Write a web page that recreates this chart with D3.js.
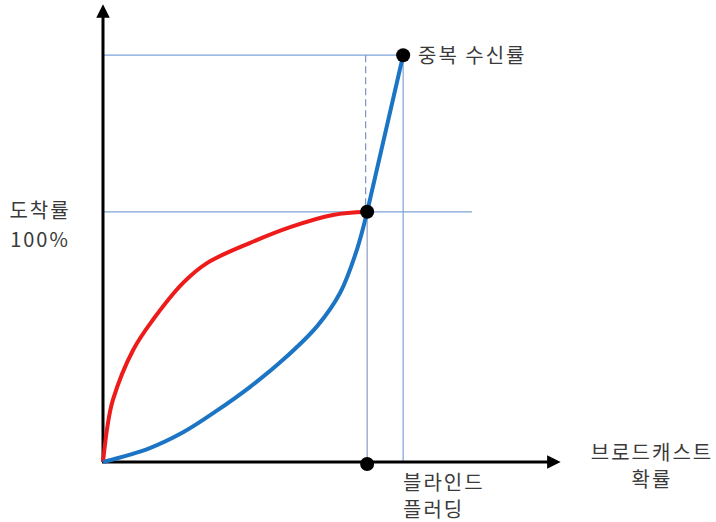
<!DOCTYPE html>
<html>
<head>
<meta charset="utf-8">
<script src="https://cdn.jsdelivr.net/npm/d3@7"></script>
<style>
  body { margin: 0; background: #fff; }
  text { font-family: "Noto Sans CJK KR", "Noto Sans", sans-serif; fill: #3a3a3a; font-size: 20px; letter-spacing: 2px; }
</style>
</head>
<body>
<div id="chart"></div>
<script>
// Données (unités : % de la largeur/hauteur du repère)
const reachCurve = [
    [0, 0], [1.0, 8.0], [2.2, 13.8], [6.7, 24.9], [11.1, 31.6], [17.8, 39.8],
    [23.1, 44.2], [32.7, 48.7], [41.6, 52.2], [51.1, 54.9], [58.7, 55.6]
];
const broadcastCurve = [
    [0, 0], [10.4, 3.1], [17.8, 6.6], [25.3, 11.4], [32.7, 16.7],
    [40, 22.7], [47.6, 30.2], [52.7, 37.6], [56.4, 47.1], [58.7, 55.6]
];
const reachPoint = [58.7, 55.6];
const duplicatePoint = [66.7, 90.4];
const blindPoint = [58.7, 0];
const labels = {
    y: ["도착률", "100%"],
    x: ["브로드캐스트", "확률"],
    dup: "중복 수신률",
    blind: ["블라인드", "플러딩"]
};

const width = 716, height = 522;

const svg = d3.select("#chart")
    .append("svg")
    .attr("width", width)
    .attr("height", height);

// Échelles
const x = d3.scaleLinear().domain([0, 100]).range([103, 553]);
const y = d3.scaleLinear().domain([0, 100]).range([462, 12]);

const guide = "#7ea3d9";

// Lignes de repère
svg.append("line")
    .attr("x1", x(0)).attr("x2", x(duplicatePoint[0]))
    .attr("y1", y(duplicatePoint[1])).attr("y2", y(duplicatePoint[1]))
    .attr("stroke", guide).attr("stroke-width", 1.2);
svg.append("line")
    .attr("x1", x(0)).attr("x2", x(82))
    .attr("y1", y(reachPoint[1])).attr("y2", y(reachPoint[1]))
    .attr("stroke", guide).attr("stroke-width", 1.2);
svg.append("line")
    .attr("x1", x(duplicatePoint[0])).attr("x2", x(duplicatePoint[0]))
    .attr("y1", y(duplicatePoint[1])).attr("y2", y(0))
    .attr("stroke", guide).attr("stroke-width", 1.2);
svg.append("line")
    .attr("x1", x(reachPoint[0])).attr("x2", x(reachPoint[0]))
    .attr("y1", y(reachPoint[1])).attr("y2", y(0))
    .attr("stroke", "#8c9cc0").attr("stroke-width", 1.2);
svg.append("line")
    .attr("x1", x(reachPoint[0]) - 1.5).attr("x2", x(reachPoint[0]) - 1.5)
    .attr("y1", y(duplicatePoint[1])).attr("y2", y(reachPoint[1]))
    .attr("stroke", "#7f92b8").attr("stroke-width", 1.2)
    .attr("stroke-dasharray", "7,4");

// Axes avec flèches
svg.append("defs").append("marker")
    .attr("id", "arrow")
    .attr("viewBox", "0 0 10 10")
    .attr("refX", 1).attr("refY", 5)
    .attr("markerWidth", 4.5).attr("markerHeight", 4.5)
    .attr("orient", "auto")
    .append("path")
    .attr("d", "M0,0L10,5L0,10Z")
    .attr("fill", "#000");

svg.append("line")
    .attr("x1", x(0)).attr("y1", y(0))
    .attr("x2", x(0)).attr("y2", y(99))
    .attr("stroke", "#000").attr("stroke-width", 3)
    .attr("marker-end", "url(#arrow)");
svg.append("line")
    .attr("x1", x(0) - 1).attr("y1", y(0))
    .attr("x2", x(99)).attr("y2", y(0))
    .attr("stroke", "#000").attr("stroke-width", 3)
    .attr("marker-end", "url(#arrow)");

// Courbes
const line = d3.line()
    .x(d => x(d[0]))
    .y(d => y(d[1]))
    .curve(d3.curveCatmullRom.alpha(0.5));

svg.append("path")
    .datum(reachCurve)
    .attr("d", line)
    .attr("fill", "none")
    .attr("stroke", "#ee1b1b")
    .attr("stroke-width", 4);

// courbe bleue : partie basse lissée + segment droit vers le point de duplication
svg.append("path")
    .datum(broadcastCurve)
    .attr("d", line)
    .attr("fill", "none")
    .attr("stroke", "#1b75c4")
    .attr("stroke-width", 4);

svg.append("path")
    .datum([reachPoint, duplicatePoint])
    .attr("d", d3.line().x(d => x(d[0])).y(d => y(d[1])))
    .attr("fill", "none")
    .attr("stroke", "#1b75c4")
    .attr("stroke-width", 4);

// Points
svg.selectAll("circle.pt")
    .data([duplicatePoint, reachPoint, blindPoint])
    .join("circle")
    .attr("class", "pt")
    .attr("cx", d => x(d[0]))
    .attr("cy", d => y(d[1]) + (d[1] === 0 ? 2 : 0))
    .attr("r", 7)
    .attr("fill", "#000");

// Textes
svg.append("text").attr("x", 418).attr("y", 63).text(labels.dup);

svg.selectAll("text.ylab")
    .data(labels.y)
    .join("text")
    .attr("class", "ylab")
    .attr("x", 40).attr("y", (d, i) => 218 + i * 29)
    .attr("text-anchor", "middle")
    .attr("letter-spacing", (d, i) => i === 1 ? 3 : 2)
    .text(d => d);

svg.selectAll("text.xlab")
    .data(labels.x)
    .join("text")
    .attr("class", "xlab")
    .attr("x", 652).attr("y", (d, i) => 460 + i * 27)
    .attr("text-anchor", "middle")
    .text(d => d);

svg.selectAll("text.blab")
    .data(labels.blind)
    .join("text")
    .attr("class", "blab")
    .attr("x", 403).attr("y", (d, i) => 490 + i * 27)
    .text(d => d);
</script>
</body>
</html>
